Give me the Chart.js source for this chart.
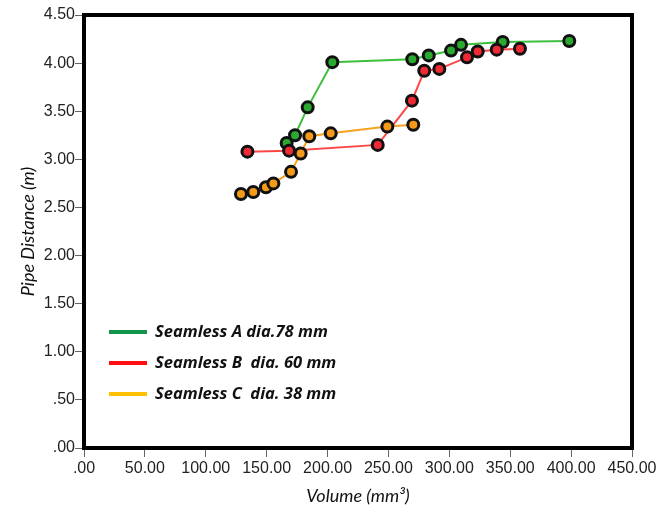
<!DOCTYPE html>
<html lang="en">
<head>
  <meta charset="UTF-8">
  <title>Pipe Distance vs Volume</title>
  <script src="https://cdn.jsdelivr.net/npm/chart.js@4.4.1/dist/chart.umd.min.js"></script>
  <style>
    body { margin: 0; background: #fff; }
  </style>
</head>
<body>
  <canvas id="pipeChart" width="672" height="508"></canvas>

  <script>
    // values
    var volA = [166.4, 173.3, 183.7, 203.9, 269.6, 283.1, 301.4, 309.6, 343.8, 398.5];
    var distA = [3.17, 3.25, 3.54, 4.01, 4.04, 4.08, 4.13, 4.19, 4.22, 4.23];

    var volB = [134.2, 168.4, 241.2, 269.3, 279.4, 291.8, 314.5, 323.3, 338.9, 358.0];
    var distB = [3.08, 3.09, 3.15, 3.61, 3.92, 3.94, 4.06, 4.12, 4.14, 4.15];

    var volC = [128.9, 139.0, 149.4, 155.5, 170.0, 177.9, 185.0, 202.6, 249.1, 270.4];
    var distC = [2.64, 2.66, 2.71, 2.75, 2.87, 3.06, 3.24, 3.27, 3.34, 3.36];

    var seriesNames = ['Seamless A dia.78 mm', 'Seamless B  dia. 60 mm', 'Seamless C  dia. 38 mm'];
    var legendColors = ['#12944a', '#ff1010', '#ffc000'];

    function toPoints(xs, ys) {
      return xs.map(function (x, i) { return { x: x, y: ys[i] }; });
    }

    function makeSet(name, xs, ys, line, fill, order) {
      return {
        label: name,
        data: toPoints(xs, ys),
        borderColor: line,
        backgroundColor: fill,
        borderWidth: 2,
        pointRadius: 5.5,
        pointBorderWidth: 3,
        pointBorderColor: '#111',
        pointBackgroundColor: fill,
        tension: 0,
        order: order
      };
    }

    // frame round the plot + legend inside it
    var framePlugin = {
      id: 'frame',
      afterDraw: function (chart) {
        var c = chart.ctx, a = chart.chartArea;
        c.save();
        c.strokeStyle = '#000';
        c.lineWidth = 4;
        c.strokeRect(a.left, a.top, a.right - a.left, a.bottom - a.top);

        c.font = 'italic bold 16.5px "Open Sans"';
        c.textBaseline = 'middle';
        for (var i = 0; i < seriesNames.length; i++) {
          var y = a.top + 317 + i * 31;
          c.strokeStyle = legendColors[i];
          c.lineWidth = 4;
          c.beginPath();
          c.moveTo(a.left + 25, y);
          c.lineTo(a.left + 63, y);
          c.stroke();
          c.fillStyle = '#111';
          c.fillText(seriesNames[i], a.left + 71, y);
        }
        c.restore();
      }
    };

    var tickFont = { family: 'Liberation Sans', size: 16 };
    var titleFont = { family: 'Lato', size: 18, style: 'italic' };

    var ctx = document.getElementById('pipeChart').getContext('2d');
    var pipeChart = new Chart(ctx, {
      type: 'line',
      data: {
        datasets: [
          makeSet(seriesNames[0], volA, distA, '#3fbf3f', '#2aa830', 2),
          makeSet(seriesNames[1], volB, distB, '#ff4747', '#ee2a35', 1),
          makeSet(seriesNames[2], volC, distC, '#f7a21e', '#f59a18', 0)
        ]
      },
      options: {
        responsive: false,
        animation: false,
        layout: { padding: { top: 15, right: 40, left: 0, bottom: 0 } },
        plugins: {
          legend: { display: false },
          tooltip: { enabled: false }
        },
        scales: {
          x: {
            type: 'linear',
            min: 0,
            max: 450,
            border: { display: false },
            grid: { drawOnChartArea: false, tickLength: 9, color: '#666' },
            ticks: {
              stepSize: 50,
              padding: 2,
              color: '#222',
              font: tickFont,
              maxRotation: 0,
              callback: function (v) { return v === 0 ? '.00' : v.toFixed(2); }
            },
            title: { display: true, text: 'Volume (mm\u00b3)', color: '#111', font: titleFont, padding: { top: 0, bottom: 1 } },
            afterFit: function (s) { s.height = 60; }
          },
          y: {
            min: 0,
            max: 4.5,
            border: { display: false },
            grid: { drawOnChartArea: false, tickLength: 9, color: '#666' },
            ticks: {
              stepSize: 0.5,
              padding: 0,
              color: '#222',
              font: tickFont,
              callback: function (v) { return v < 1 ? v.toFixed(2).replace(/^0/, '') : v.toFixed(2); }
            },
            title: { display: true, text: 'Pipe Distance (m)', color: '#111', font: titleFont, padding: { top: 17, bottom: 0 } },
            afterFit: function (s) { s.width = 84; }
          }
        }
      },
      plugins: [framePlugin]
    });
  </script>
</body>
</html>
